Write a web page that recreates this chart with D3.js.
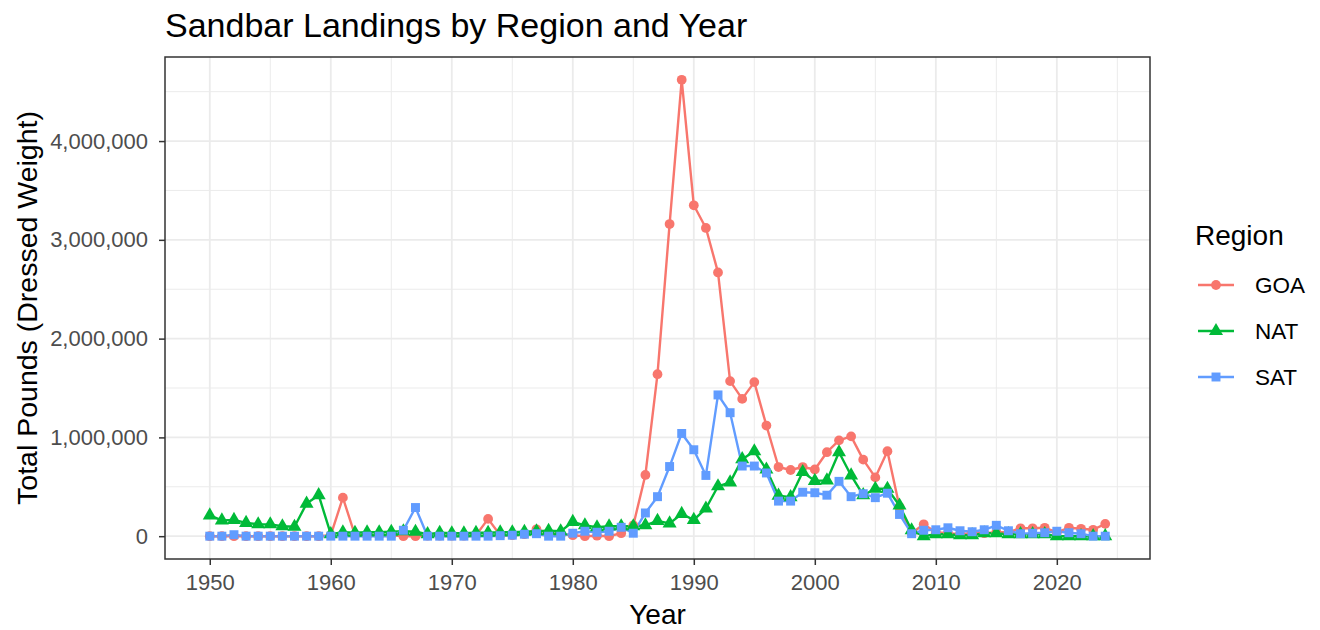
<!DOCTYPE html>
<html>
<head>
<meta charset="utf-8">
<script src="https://cdn.jsdelivr.net/npm/d3@7"></script>
<style>
  body { margin: 0; background: #fff; }
  svg text { font-family: "Liberation Sans", Arial, sans-serif; }
</style>
</head>
<body>
<svg id="chart" width="1320" height="630"></svg>
<script>
const years = d3.range(1950, 2025);
const regions = ["GOA", "NAT", "SAT"];
const colors = ["#F8766D", "#00BA38", "#619CFF"];
const xTicks = [1950, 1960, 1970, 1980, 1990, 2000, 2010, 2020];
const yTicks = [0, 1000000, 2000000, 3000000, 4000000];

const goa = [0,0,0,0,0,0,0,0,0,0,
  10000,390000,10000,10000,10000,10000,0,0,5000,5000,
  5000,5000,10000,175000,10000,10000,20000,70000,30000,20000,
  10000,0,5000,0,30000,110000,620000,1640000,3160000,4620000,
  3350000,3120000,2670000,1570000,1390000,1560000,1120000,700000,670000,700000,
  675000,850000,970000,1010000,775000,595000,860000,295000,30000,120000,
  40000,30000,20000,30000,30000,40000,40000,80000,80000,85000,
  40000,85000,75000,65000,125000];
const nat = [210000,160000,165000,135000,120000,120000,100000,95000,330000,415000,
  20000,40000,35000,40000,40000,45000,50000,45000,20000,35000,
  30000,30000,35000,35000,40000,40000,45000,50000,55000,50000,
  145000,110000,90000,100000,100000,100000,110000,155000,130000,225000,
  165000,280000,505000,545000,780000,860000,675000,410000,395000,650000,
  560000,565000,850000,615000,415000,480000,480000,310000,60000,0,
  20000,20000,10000,10000,30000,30000,20000,20000,20000,20000,
  0,0,0,0,0];
const sat = [0,0,15000,0,0,0,0,0,0,0,
  0,0,0,0,0,0,60000,290000,0,0,
  0,0,0,0,5000,10000,20000,25000,0,0,
  30000,50000,40000,50000,90000,30000,235000,400000,705000,1040000,
  875000,615000,1430000,1250000,710000,710000,640000,355000,355000,445000,
  440000,415000,555000,400000,430000,390000,435000,220000,25000,60000,
  65000,85000,55000,45000,65000,110000,55000,25000,30000,35000,
  50000,35000,25000,0,0];
const seriesValues = [goa, nat, sat];

const svg = d3.select("#chart");
const panel = { left: 165, right: 1150, top: 57, bottom: 559 };

// ggplot-like 5% expansion
const xMin = d3.min(years), xMax = d3.max(years);
const xPad = (xMax - xMin) * 0.05;
const x = d3.scaleLinear().domain([xMin - xPad, xMax + xPad]).range([panel.left, panel.right]);
const allVals = seriesValues.flat();
const yMin = d3.min(allVals), yMax = d3.max(allVals);
const yPad = (yMax - yMin) * 0.05;
const y = d3.scaleLinear().domain([yMin - yPad, yMax + yPad]).range([panel.bottom, panel.top]);

// grid
const g = svg.append("g");
const minorX = d3.range(1955, 2030, 10).filter(v => v > x.domain()[0] && v < x.domain()[1]);
const minorY = d3.range(500000, 5000000, 1000000).filter(v => v < y.domain()[1]);
g.selectAll(".mxg").data(minorX).join("line")
  .attr("x1", d => x(d)).attr("x2", d => x(d)).attr("y1", panel.top).attr("y2", panel.bottom)
  .attr("stroke", "#EBEBEB").attr("stroke-width", 1);
g.selectAll(".myg").data(minorY).join("line")
  .attr("y1", d => y(d)).attr("y2", d => y(d)).attr("x1", panel.left).attr("x2", panel.right)
  .attr("stroke", "#EBEBEB").attr("stroke-width", 1);
g.selectAll(".Mxg").data(xTicks).join("line")
  .attr("x1", d => x(d)).attr("x2", d => x(d)).attr("y1", panel.top).attr("y2", panel.bottom)
  .attr("stroke", "#EBEBEB").attr("stroke-width", 1.8);
g.selectAll(".Myg").data(yTicks).join("line")
  .attr("y1", d => y(d)).attr("y2", d => y(d)).attr("x1", panel.left).attr("x2", panel.right)
  .attr("stroke", "#EBEBEB").attr("stroke-width", 1.8);

// lines
const line = d3.line().x(d => x(d[0])).y(d => y(d[1]));
regions.forEach((r, i) => {
  const pts = years.map((yr, j) => [yr, seriesValues[i][j]]);
  svg.append("path").datum(pts).attr("d", line)
    .attr("fill", "none").attr("stroke", colors[i]).attr("stroke-width", 2.4)
    .attr("stroke-linejoin", "round");
});
const shapes = [d3.symbolCircle, d3.symbolTriangle, d3.symbolSquare];
const sizes = [75, 85, 80];
regions.forEach((r, i) => {
  const pts = years.map((yr, j) => [yr, seriesValues[i][j]]);
  svg.append("g").selectAll("path").data(pts).join("path")
    .attr("transform", d => `translate(${x(d[0])},${y(d[1])})`)
    .attr("d", d3.symbol().type(shapes[i]).size(sizes[i]))
    .attr("fill", colors[i]);
});

// panel border
svg.append("rect").attr("x", panel.left).attr("y", panel.top)
  .attr("width", panel.right - panel.left).attr("height", panel.bottom - panel.top)
  .attr("fill", "none").attr("stroke", "#333333").attr("stroke-width", 1.5);

// axes
const xAxis = svg.append("g").attr("transform", `translate(0,${panel.bottom})`)
  .call(d3.axisBottom(x).tickValues(xTicks).tickFormat(d3.format("d")).tickSize(6).tickPadding(9));
const yAxis = svg.append("g").attr("transform", `translate(${panel.left},0)`)
  .call(d3.axisLeft(y).tickValues(yTicks).tickFormat(d3.format(",")).tickSize(6).tickPadding(11));
[xAxis, yAxis].forEach(a => {
  a.select(".domain").remove();
  a.selectAll(".tick line").attr("stroke", "#333333").attr("stroke-width", 1.5);
  a.selectAll(".tick text").attr("fill", "#4D4D4D").style("font-size", "22px")
   .style("font-family", "'Liberation Sans', Arial, sans-serif");
});

// titles
svg.append("text").attr("x", 165).attr("y", 37).text("Sandbar Landings by Region and Year")
  .style("font-size", "34px").attr("fill", "#000");
svg.append("text").attr("x", (panel.left + panel.right) / 2).attr("y", 624)
  .attr("text-anchor", "middle").text("Year").style("font-size", "28px").attr("fill", "#000");
svg.append("text").attr("transform", `translate(37,${(panel.top + panel.bottom) / 2}) rotate(-90)`)
  .attr("text-anchor", "middle").text("Total Pounds (Dressed Weight)")
  .style("font-size", "28.5px").attr("fill", "#000");

// legend
const lg = svg.append("g");
lg.append("text").attr("x", 1195).attr("y", 245).text("Region").style("font-size", "28px").attr("fill", "#000");
const keyY = [285, 331, 377];
regions.forEach((r, i) => {
  lg.append("line").attr("x1", 1198).attr("x2", 1234).attr("y1", keyY[i]).attr("y2", keyY[i])
    .attr("stroke", colors[i]).attr("stroke-width", 2.4);
  lg.append("path").attr("transform", `translate(1216,${keyY[i]})`)
    .attr("d", d3.symbol().type(shapes[i]).size(sizes[i])).attr("fill", colors[i]);
  lg.append("text").attr("x", 1255).attr("y", keyY[i] + 8).text(r)
    .style("font-size", "22.5px").attr("fill", "#000");
});
</script>
</body>
</html>
